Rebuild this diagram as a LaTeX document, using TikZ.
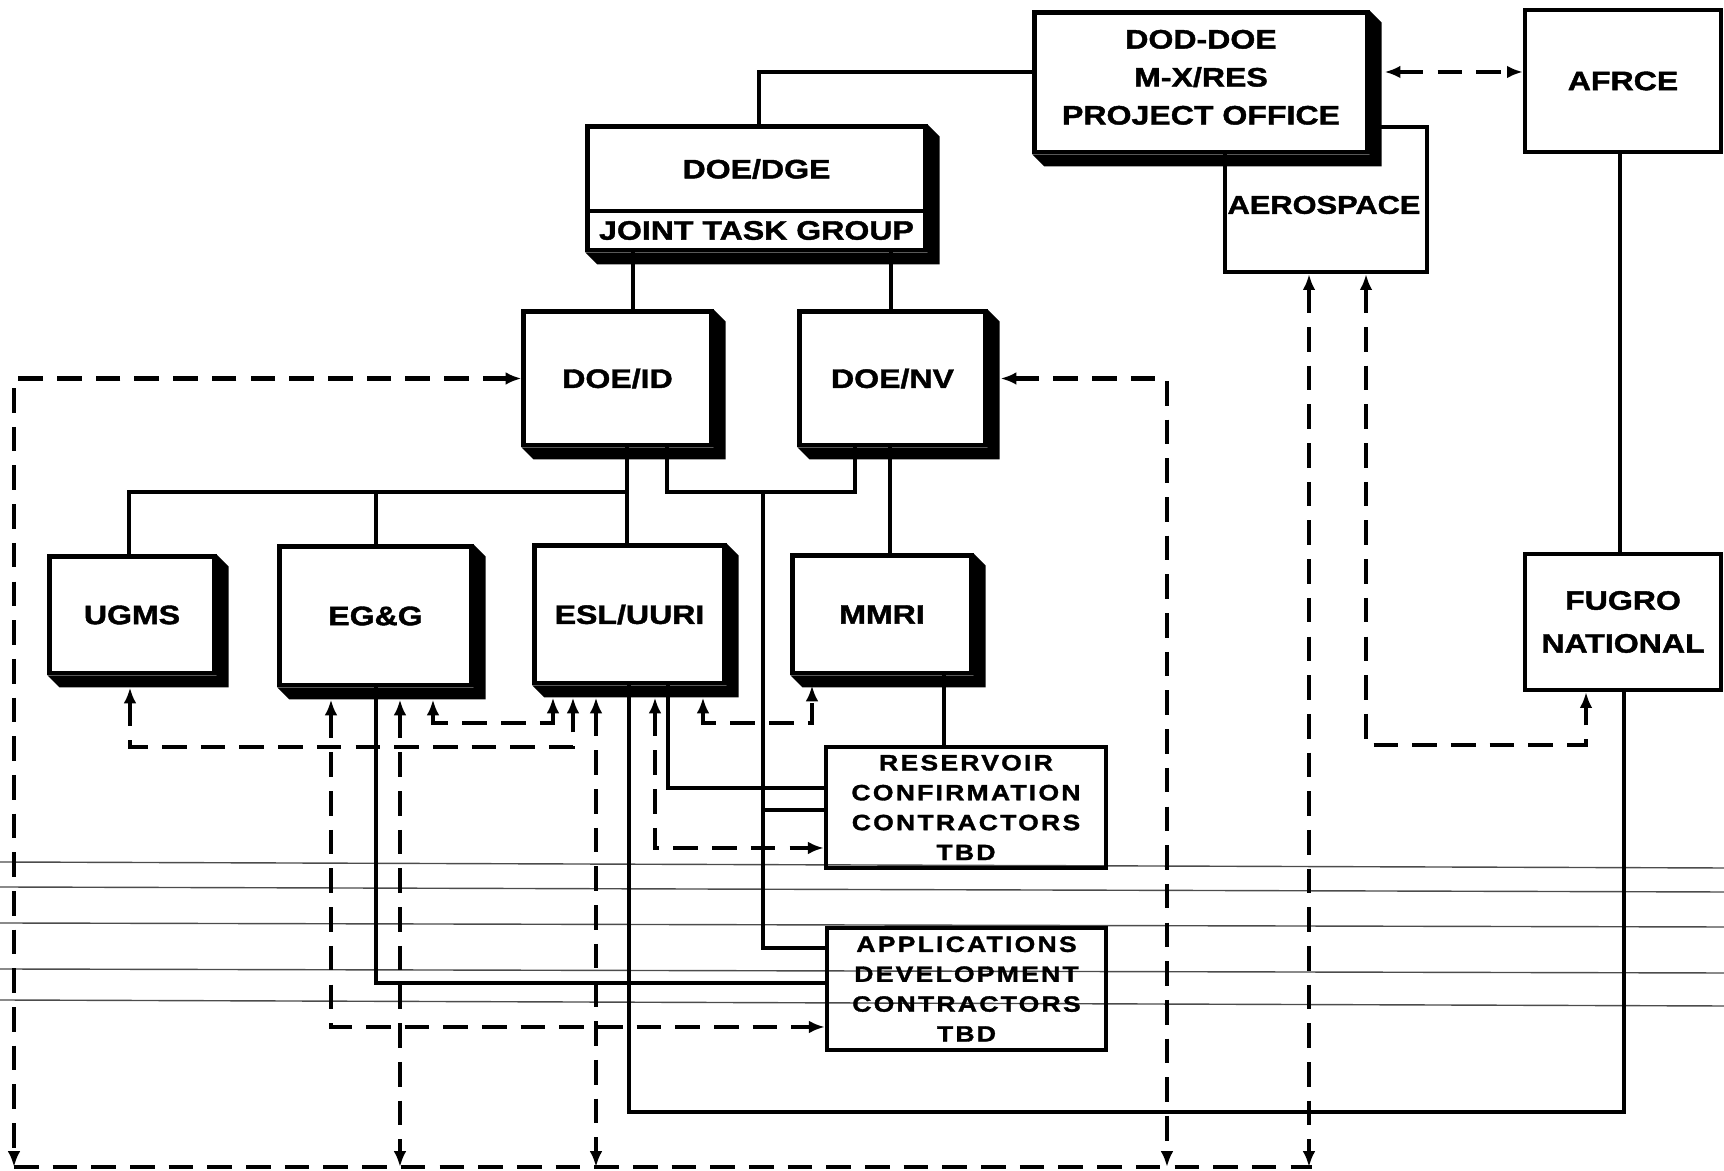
\documentclass[tikz,border=0pt]{standalone}
\usepackage{fontspec}
\usetikzlibrary{arrows.meta}
\newfontfamily\boxfont{Liberation Sans Bold}[FakeStretch=1.2,FakeBold=1.5]
\newfontfamily\tbdfont{Liberation Sans Bold}[FakeStretch=1.2,FakeBold=1.5,LetterSpace=10]

\begin{document}
\begin{tikzpicture}[x=0.01cm, y=-0.01cm,
  sbox/.style={draw, line width=1.4pt, fill=white, inner sep=0pt, align=center, font=\boxfont\fontsize{7.6pt}{10.8pt}\selectfont},
  pbox/.style={draw, line width=1.2pt, inner sep=0pt, align=center, font=\boxfont\fontsize{7.6pt}{12.2pt}\selectfont},
  tbox/.style={draw, line width=1.2pt, inner sep=0pt, align=center, font=\tbdfont\fontsize{6.3pt}{8.5pt}\selectfont},
  lbl/.style={inner sep=0pt, font=\boxfont\fontsize{7.3pt}{9pt}\selectfont},
  link/.style={line width=1.1pt},
  dlink/.style={line width=1.3pt, dash pattern=on 7pt off 4pt, <->},
  offsh/.style={shorten <=0.12cm},
  rule/.style={line width=0.4pt, black!70},
  >={Latex[length=4.5pt, width=3.6pt]}]

\useasboundingbox (0,0) rectangle (1724,1171);

\draw[rule] (0,862) -- (1724,868);
\draw[rule] (0,887) -- (1724,892);
\draw[rule] (0,923) -- (1724,927);
\draw[rule] (0,969) -- (1724,973);
\draw[rule] (0,1000) -- (1724,1006);

\node[pbox, minimum width=2.02cm, minimum height=1.45cm] (aero) at (1326,199.5) {};
\node[lbl] (aeroText) at (1324,205) {AEROSPACE};
\node[sbox, minimum width=3.32cm, minimum height=1.39cm] (office) at (1201,82.5) {DOD-DOE\\M-X/RES\\PROJECT OFFICE\rule[-3pt]{0pt}{0pt}};
\node[pbox, minimum width=1.96cm, minimum height=1.42cm] (afrce) at (1623,81) {AFRCE};
\node[sbox, minimum width=3.37cm, minimum height=0.84cm] (dgeTop) at (756.5,169) {DOE/DGE};
\node[sbox, minimum width=3.37cm, minimum height=0.39cm] (dgeJtg) at (756.5,230.5) {JOINT TASK GROUP};
\node[sbox, minimum width=1.87cm, minimum height=1.33cm] (doeid) at (617.5,378.5) {DOE/ID};
\node[sbox, minimum width=1.85cm, minimum height=1.33cm] (doenv) at (892.5,378.5) {DOE/NV};
\node[sbox, minimum width=1.64cm, minimum height=1.16cm] (ugms) at (132,615) {UGMS};
\node[sbox, minimum width=1.91cm, minimum height=1.38cm] (egg) at (375.5,616) {EG\&G};
\node[sbox, minimum width=1.89cm, minimum height=1.37cm] (esl) at (629.5,614.5) {ESL/UURI};
\node[sbox, minimum width=1.78cm, minimum height=1.17cm] (mmri) at (882,614.5) {MMRI};
\node[tbox, minimum width=2.80cm, minimum height=1.21cm] (rc) at (966,807.5) {RESERVOIR\\CONFIRMATION\\CONTRACTORS\\TBD};
\node[tbox, minimum width=2.79cm, minimum height=1.22cm] (adc) at (966.5,989) {APPLICATIONS\\DEVELOPMENT\\CONTRACTORS\\TBD};
\node[pbox, minimum width=1.96cm, minimum height=1.36cm] (fugro) at (1623,622) {FUGRO\\NATIONAL};

\foreach \t/\b in {office/office, dgeTop/dgeJtg, doeid/doeid, doenv/doenv, ugms/ugms, egg/egg, esl/esl, mmri/mmri}
  \fill (\b.south west) -- ++(12,12) -| ([shift={(12,12)}]\t.north east) -- (\t.north east) -- (\b.south east) -- cycle;

\draw[link] (office.west |- 0,72) -| (dgeTop.north -| 759,0);
\draw[link] (dgeJtg.south -| 633,0) -- (doeid.north -| 633,0);
\draw[link] (dgeJtg.south -| 891,0) -- (doenv.north -| 891,0);
\draw[link] (doeid.south -| 627,0) -- (esl.north -| 627,0);
\draw[link] (ugms.north -| 129,0) |- (627,492);
\draw[link] (egg.north -| 376,0) -- (376,492);
\draw[link] (doeid.south -| 667,0) |- (855,492) -- (doenv.south -| 855,0);
\draw[link] (763,492) |- (adc.west |- 0,948);
\draw[link] (763,810) -- (rc.west |- 0,810);
\draw[link] (doenv.south -| 890,0) -- (mmri.north -| 890,0);
\draw[link] (mmri.south -| 944,0) -- (rc.north -| 944,0);
\draw[link] (esl.south -| 668,0) |- (rc.west |- 0,788);
\draw[link] (egg.south -| 376,0) |- (adc.west |- 0,983);
\draw[link] (esl.south -| 629,0) |- (1624,1112) -- (fugro.south -| 1624,0);
\draw[link] (afrce.south -| 1620,0) -- (fugro.north -| 1620,0);

\draw[dlink] (doeid.west) -| (14,1167);
\draw[dlink, shorten <=0.13cm] (doenv.east) -| (1167,1167);
\draw[dlink] (aero.south -| 1309,0) -- (1309,1167);
\draw[dlink] (aero.south -| 1366,0) |- (1586,745) -- (fugro.south -| 1586,0);
\draw[dlink, offsh] (egg.south -| 400,0) -- (400,1167);
\draw[dlink, offsh] (esl.south -| 596,0) -- (596,1167);
\draw[dlink, offsh, shorten >=0.12cm] (egg.south -| 433,0) |- (553,723) -- (esl.south -| 553,0);
\draw[dlink, offsh, shorten >=0.12cm] (ugms.south -| 130,0) |- (573,747) -- (esl.south -| 573,0);
\draw[dlink, offsh, shorten >=0.10cm] (esl.south -| 703,0) |- (812,723) -- (mmri.south -| 812,0);
\draw[dlink, offsh] (esl.south -| 655,0) |- (rc.west |- 0,848);
\draw[dlink, offsh] (egg.south -| 331,0) |- (adc.west |- 0,1027);
\draw[dlink, shorten <=0.15cm] (office.east |- 0,72) -- (afrce.west |- 0,72);
\draw[dlink, -] (14,1167) -- (1312,1167);
\end{tikzpicture}
\end{document}
